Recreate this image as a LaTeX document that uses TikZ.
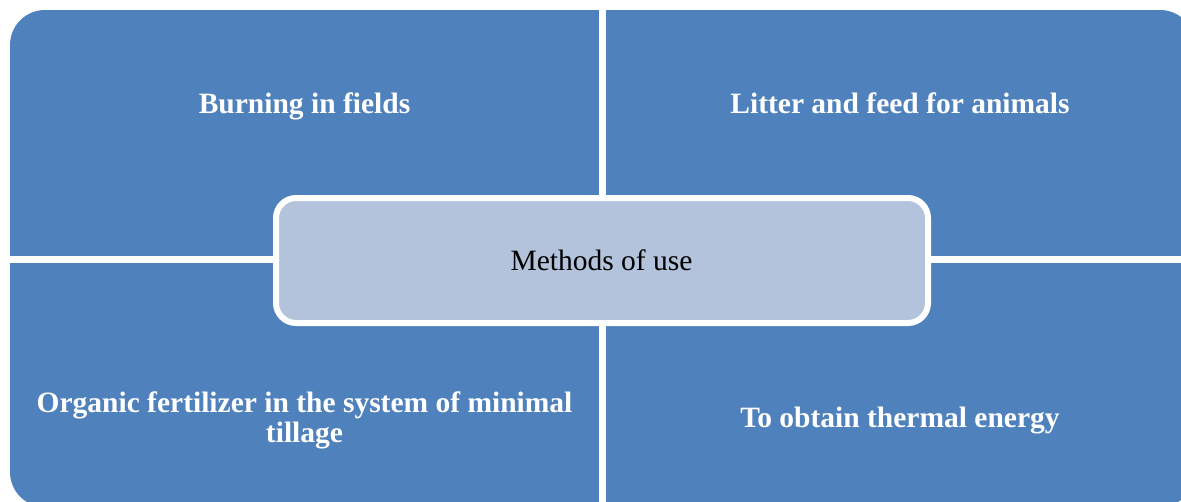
\documentclass[tikz,border=0pt]{standalone}
\usepackage{fontspec}
\setmainfont{Liberation Serif}
\definecolor{qblue}{HTML}{4F81BD}
\definecolor{qlight}{HTML}{B3C3DC}
\begin{document}
\begin{tikzpicture}[x=1pt,y=-1pt,
  quadtext/.style={text=white,font=\fontsize{29.5}{30.5}\selectfont\bfseries,align=center,inner sep=0pt},
  hub/.style={draw=white,line width=6pt,fill=qlight,rounded corners=20pt,
    minimum width=652pt,minimum height=125pt,inner sep=0pt,
    font=\fontsize{29.5}{31}\selectfont,text=black}]
\useasboundingbox (0,0) rectangle (1181,501);
\clip (0,0) rectangle (1181,501);
\fill[qblue,rounded corners=35pt] (10,10) rectangle (1195,507);
\draw[white,line width=7pt] (602.5,0) -- (602.5,510);
\draw[white,line width=7pt] (0,259.5) -- (1200,259.5);
\node[hub] (hub) at (602,260.5) {};
\node[anchor=base,inner sep=0pt,font=\fontsize{29.5}{31}\selectfont] (hubtext) at (601.5,270) {Methods of use};
\node[quadtext,anchor=base] (tl) at (304.5,113) {Burning in fields};
\node[quadtext,anchor=base] (tr) at (900,113) {Litter and feed for animals};
\node[quadtext] (bl) at (304.5,420.5) {Organic fertilizer in the system of minimal\\tillage};
\node[quadtext,anchor=base] (br) at (900,427) {To obtain thermal energy};
\end{tikzpicture}
\end{document}
